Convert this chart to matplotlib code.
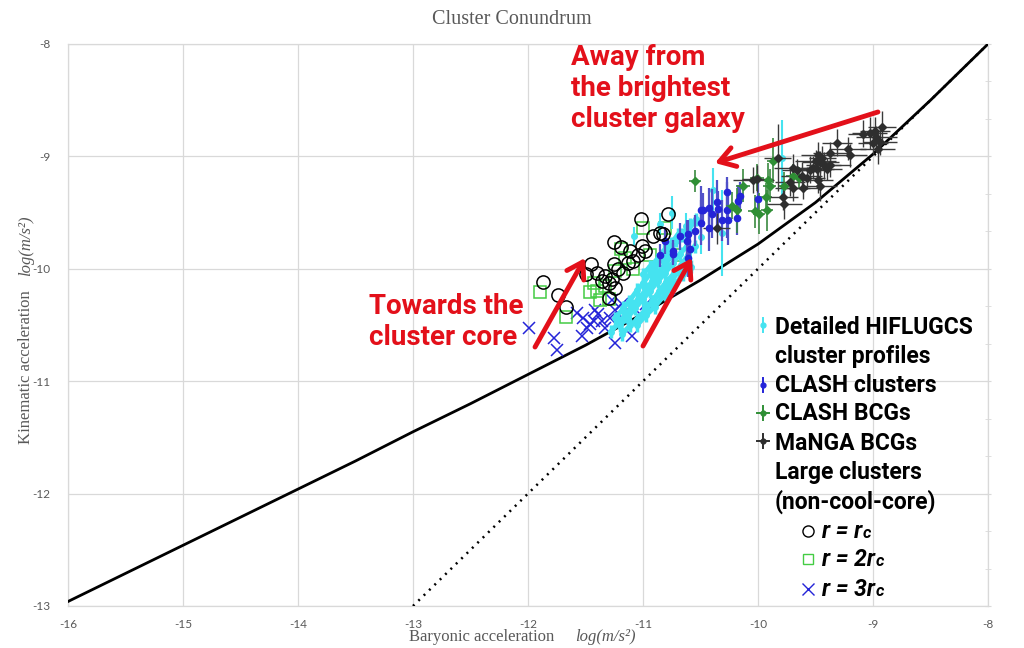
import matplotlib
matplotlib.use("Agg")
import matplotlib.pyplot as plt
from matplotlib.ticker import MultipleLocator

# ---------------- data ----------------
curve_x = [-16.0, -15.5, -15.0, -14.5, -14.0, -13.5, -13.0, -12.5, -12.0,
           -11.5, -11.0, -10.5, -10.0, -9.5, -9.0, -8.5, -8.0]
curve_y = [-12.96, -12.71, -12.46, -12.21, -11.96, -11.71, -11.45, -11.20, -10.94,
           -10.68, -10.40, -10.10, -9.78, -9.41, -8.98, -8.50, -8.00]
unity_x = [-13.0, -8.0]
unity_y = [-13.0, -8.0]

# HIFLUGCS detailed profiles (cyan)
hif_a_x = [-11.28, -11.21, -11.16, -11.09, -11.04, -10.97, -10.92, -10.85, -10.80, -10.74]
hif_a_y = [-10.56, -10.48, -10.42, -10.33, -10.27, -10.18, -10.11, -10.02, -9.95, -9.87]
hif_b_x = [-11.18, -11.11, -11.05, -10.97, -10.91, -10.83, -10.77, -10.69, -10.63]
hif_b_y = [-10.58, -10.50, -10.45, -10.35, -10.29, -10.19, -10.13, -10.02, -9.96]
hif_c_x = [-11.05, -10.97, -10.90, -10.81, -10.74, -10.65, -10.58]
hif_c_y = [-10.50, -10.41, -10.34, -10.23, -10.16, -10.05, -9.98]
hif_d_x = [-11.24, -11.17, -11.12, -11.05, -11.00, -10.93]
hif_d_y = [-10.44, -10.35, -10.29, -10.19, -10.13, -10.03]
hif_e_x = [-10.90, -10.83, -10.78, -10.71, -10.66, -10.59, -10.54]
hif_e_y = [-10.00, -9.91, -9.85, -9.75, -9.70, -9.61, -9.56]
hif_f_x = [-11.20, -11.13, -11.07, -11.00, -10.94, -10.87, -10.81, -10.74, -10.68, -10.62]
hif_f_y = [-10.50, -10.43, -10.35, -10.27, -10.20, -10.11, -10.04, -9.95, -9.87, -9.80]
hif_g_x = [-10.98, -10.92, -10.86, -10.80, -10.73, -10.67, -10.61, -10.55]
hif_g_y = [-10.35, -10.29, -10.20, -10.12, -10.04, -9.97, -9.88, -9.80]
hif_h_x = [-11.00, -10.94, -10.88, -10.82, -10.76, -10.70]
hif_h_y = [-10.05, -9.98, -9.92, -9.84, -9.78, -9.70]
hif_single_x = [-10.75, -10.39, -10.31, -9.79, -10.63, -10.85, -11.08, -10.50]
hif_single_y = [-9.50, -9.30, -9.68, -9.01, -9.62, -9.60, -9.71, -9.72]
hif_single_err = [0.15, 0.20, 0.38, 0.33, 0.12, 0.10, 0.08, 0.15]

# CLASH clusters (blue)
clash_x = [-10.61, -10.59, -10.62, -10.68, -10.74, -10.50, -10.48, -10.43, -10.40,
           -10.36, -10.35, -10.27, -10.27, -10.26, -10.31, -10.17, -10.16, -10.00,
           -10.55, -10.43, -10.61, -10.74, -10.61, -10.81, -10.85, -10.50, -10.18]
clash_y = [-9.90, -9.82, -9.75, -9.71, -9.84, -9.59, -9.48, -9.46, -9.51,
           -9.41, -9.47, -9.32, -9.48, -9.57, -9.57, -9.40, -9.35, -9.38,
           -9.66, -9.64, -9.69, -9.87, -9.97, -9.75, -9.88, -9.48, -9.55]
clash_err = [0.12, 0.15, 0.18, 0.12, 0.10, 0.20, 0.15, 0.18, 0.22,
             0.20, 0.16, 0.14, 0.25, 0.22, 0.18, 0.15, 0.12, 0.14,
             0.14, 0.20, 0.12, 0.10, 0.10, 0.12, 0.10, 0.22, 0.15]

# CLASH BCGs (green)
bcg_x = [-10.55, -10.13, -10.23, -10.18, -10.03, -9.92, -10.01, -9.91,
         -9.77, -9.70, -9.87, -9.90, -9.99, -9.64, -9.93]
bcg_y = [-9.22, -9.26, -9.44, -9.48, -9.49, -9.48, -9.19, -9.21,
         -9.26, -9.17, -9.04, -9.26, -9.51, -9.19, -9.36]
bcg_yerr = [0.10, 0.15, 0.12, 0.20, 0.15, 0.18, 0.12, 0.15,
            0.12, 0.10, 0.20, 0.15, 0.18, 0.10, 0.12]
bcg_xerr = [0.05, 0.06, 0.05, 0.04, 0.06, 0.05, 0.06, 0.05,
            0.05, 0.06, 0.05, 0.06, 0.05, 0.05, 0.05]

# MaNGA BCGs (dark grey)
manga_x = [-9.83, -9.70, -9.66, -9.62, -9.57, -9.55, -9.50, -9.48, -9.44, -9.46,
           -9.43, -9.40, -9.37, -9.49, -9.52, -9.46, -9.48, -9.37, -9.31, -9.22,
           -9.20, -9.09, -9.03, -8.98, -8.97, -8.94, -8.96, -9.00, -8.92, -9.72,
           -9.70, -9.61, -9.78, -9.77, -10.04, -10.36, -10.01]
manga_y = [-9.01, -9.10, -9.12, -9.17, -9.19, -9.12, -9.04, -8.99, -9.01, -9.05,
           -9.08, -9.11, -9.08, -9.11, -9.10, -9.26, -9.21, -8.97, -8.88, -8.93,
           -8.99, -8.80, -8.79, -8.77, -8.83, -8.87, -8.93, -8.88, -8.74, -9.23,
           -9.28, -9.28, -9.36, -9.42, -9.21, -9.64, -9.20]
manga_xerr = [0.12, 0.16, 0.13, 0.18, 0.15, 0.13, 0.18, 0.15, 0.12, 0.16,
              0.15, 0.13, 0.18, 0.15, 0.12, 0.15, 0.13, 0.15, 0.13, 0.16,
              0.15, 0.13, 0.15, 0.13, 0.18, 0.15, 0.15, 0.13, 0.12, 0.13,
              0.15, 0.15, 0.13, 0.15, 0.18, 0.12, 0.13]
manga_yerr = [0.30, 0.12, 0.10, 0.12, 0.10, 0.12, 0.10, 0.12, 0.10, 0.10,
              0.12, 0.10, 0.10, 0.12, 0.10, 0.14, 0.12, 0.10, 0.12, 0.10,
              0.10, 0.12, 0.14, 0.12, 0.10, 0.12, 0.14, 0.10, 0.14, 0.12,
              0.12, 0.10, 0.12, 0.14, 0.12, 0.14, 0.12]

# Large clusters (non-cool-core)
rc1_x = [-11.87, -11.74, -11.67, -11.45, -11.50, -11.25, -11.19, -11.25, -11.02,
         -10.91, -11.01, -11.09, -11.30, -11.36, -11.27, -11.33, -11.40, -11.17,
         -11.13, -11.24, -11.04, -10.98, -10.83, -10.78, -10.85, -11.22, -11.11, -11.30]
rc1_y = [-10.12, -10.23, -10.34, -9.96, -10.05, -9.76, -9.81, -9.96, -9.56,
         -9.71, -9.80, -9.93, -10.26, -10.11, -10.09, -10.06, -10.04, -10.04,
         -9.95, -10.17, -9.88, -9.84, -9.69, -9.51, -9.68, -10.00, -9.84, -10.13]
rc2_x = [-11.90, -11.67, -11.00, -11.19, -11.43, -11.37, -11.30, -11.40, -11.16,
         -11.24, -11.09, -10.94, -11.33, -11.46, -10.81, -10.66]
rc2_y = [-10.21, -10.43, -9.64, -9.82, -10.13, -10.28, -10.27, -10.20, -9.90,
         -10.02, -10.00, -9.88, -10.15, -10.21, -9.64, -9.88]
rc3_x = [-11.99, -11.77, -11.75, -11.52, -11.49, -11.53, -11.42, -11.36, -11.43,
         -11.39, -11.24, -11.10, -11.24, -11.27, -11.18, -10.97, -11.33, -11.46,
         -11.29, -11.16, -11.03, -10.77, -11.57]
rc3_y = [-10.53, -10.62, -10.72, -10.44, -10.53, -10.60, -10.37, -10.46, -10.46,
         -10.40, -10.66, -10.60, -10.37, -10.28, -10.31, -10.31, -10.53, -10.49,
         -10.44, -10.46, -10.40, -10.18, -10.39]

x_ticks = [-16, -15, -14, -13, -12, -11, -10, -9, -8]
y_ticks = [-13, -12, -11, -10, -9, -8]

# ---------------- styling ----------------
RED = "#e3101a"
CYAN = "#45e3f0"
BLUE = "#2424d8"
GREEN = "#2f8f35"
DARK = "#2e2e2e"
GREY = "#595959"
GRID = "#d9d9d9"
NARROW = ["Roboto", "DejaVu Sans"]
SERIF = ["Liberation Serif", "DejaVu Serif"]

fig = plt.figure(figsize=(10.24, 6.48), dpi=100)
ax = fig.add_axes([68 / 1024, 42 / 648, 920 / 1024, 562 / 648])

ax.set_xlim(-16, -8)
ax.set_ylim(-13, -8)
ax.set_xticks(x_ticks)
ax.set_yticks(y_ticks)
ax.set_xticklabels([str(v) for v in x_ticks])
ax.set_yticklabels([str(v) for v in y_ticks])
ax.yaxis.set_minor_locator(MultipleLocator(1 / 3))
ax.grid(True, which="major", color=GRID, lw=0.9)
ax.set_axisbelow(True)
for s in ax.spines.values():
    s.set_color(GRID)
    s.set_linewidth(0.9)
ax.tick_params(axis="x", length=0, pad=9, labelsize=8.5, labelcolor=GREY)
ax.tick_params(axis="y", which="both", left=False, right=True, direction="inout",
               length=5, color=GRID, pad=10, labelsize=8.5, labelcolor=GREY)
for lab in ax.get_xticklabels() + ax.get_yticklabels():
    lab.set_fontfamily(["Lato", "DejaVu Sans"])

# curves
ax.plot(curve_x, curve_y, color="black", lw=2.0, zorder=3)
ax.plot(unity_x, unity_y, color="black", lw=1.8, ls=(0, (0.8, 2.2)), zorder=3)

# r = 3rc crosses and r = 2rc squares (beneath)
ax.plot(rc3_x, rc3_y, ls="none", marker="x", ms=9, mew=1.1, color=BLUE, zorder=4)
ax.plot(rc2_x, rc2_y, ls="none", marker="s", ms=8, mfc="none", mew=1.1, color="#44cc44", zorder=4)

# HIFLUGCS profiles
for hx, hy in [(hif_a_x, hif_a_y), (hif_b_x, hif_b_y), (hif_c_x, hif_c_y),
               (hif_d_x, hif_d_y), (hif_e_x, hif_e_y), (hif_f_x, hif_f_y),
               (hif_g_x, hif_g_y), (hif_h_x, hif_h_y)]:
    ax.errorbar(hx, hy, yerr=[0.06] * len(hx), fmt="o", ms=4, color=CYAN,
                ecolor=CYAN, elinewidth=2.5, capsize=0, zorder=5)
    ax.plot(hx, hy, color=CYAN, lw=3.5, zorder=5)
ax.errorbar(hif_single_x, hif_single_y, yerr=hif_single_err, fmt="o", ms=4,
            color=CYAN, ecolor=CYAN, elinewidth=1.5, capsize=0, zorder=5)

# CLASH clusters
ax.errorbar(clash_x, clash_y, yerr=clash_err, fmt="o", ms=4.5, color=BLUE,
            ecolor="#5050c8", elinewidth=1.6, capsize=0, zorder=6)
# CLASH BCGs
ax.errorbar(bcg_x, bcg_y, xerr=bcg_xerr, yerr=bcg_yerr, fmt="D", ms=4, color=GREEN,
            ecolor="#3a8a40", elinewidth=1.2, capsize=0, zorder=6)
# MaNGA BCGs
ax.errorbar(manga_x, manga_y, xerr=manga_xerr, yerr=manga_yerr, fmt="D", ms=4, color=DARK,
            ecolor="#3a3a3a", elinewidth=1.0, capsize=0, zorder=6)

# r = rc circles (on top)
ax.plot(rc1_x, rc1_y, ls="none", marker="o", ms=9.5, mfc="none", mew=1.1, color="black", zorder=7)

# ---------------- annotations ----------------
arrow_kw = dict(arrowstyle="->,head_length=0.55,head_width=0.35", color=RED, lw=3.5,
                shrinkA=0, shrinkB=0, mutation_scale=20)
ax.annotate("", xy=(-10.374, -9.059), xytext=(-8.957, -8.605), arrowprops=arrow_kw, zorder=8)
ax.annotate("", xy=(-11.504, -9.904), xytext=(-11.939, -10.696), arrowprops=arrow_kw, zorder=8)
ax.annotate("", xy=(-10.574, -9.904), xytext=(-11.0, -10.687), arrowprops=arrow_kw, zorder=8)

fig.text(571 / 1024, 1 - 44 / 648, "Away from\nthe brightest\ncluster galaxy", color=RED,
         fontsize=20, fontweight="bold", family=NARROW, ha="left", va="top", linespacing=1.18)
fig.text(369 / 1024, 1 - 293 / 648, "Towards the\ncluster core", color=RED,
         fontsize=20, fontweight="bold", family=NARROW, ha="left", va="top", linespacing=1.18)

# ---------------- custom legend ----------------
def px2ax(px, py):
    return ((px - 68) / 920, (606 - py) / 562)

LEG_FS = 16.5
def legend_text(px, py, s, italic=False):
    return ax.text(*px2ax(px, py), s, transform=ax.transAxes, fontsize=LEG_FS,
                   fontweight="bold", family=NARROW, ha="left", va="center",
                   fontstyle="italic" if italic else "normal", color="black", zorder=9)

def bar_marker(px, py, color, horiz=False):
    mx, my = px2ax(px, py)
    dy = 7 / 562
    ax.plot([mx, mx], [my - dy, my + dy], color=color, lw=1.4, transform=ax.transAxes, zorder=9)
    if horiz:
        dx = 6 / 920
        ax.plot([mx - dx, mx + dx], [my, my], color=color, lw=1.4, transform=ax.transAxes, zorder=9)
    ax.plot([mx], [my], marker="o", ms=3.5, color=color, transform=ax.transAxes, zorder=9)

bar_marker(763, 325, CYAN)
legend_text(775, 328, "Detailed HIFLUGCS")
legend_text(775, 357, "cluster profiles")
bar_marker(763, 385, BLUE)
legend_text(775, 386, "CLASH clusters")
bar_marker(763, 413, GREEN, horiz=True)
legend_text(775, 414, "CLASH BCGs")
bar_marker(763, 441, DARK, horiz=True)
legend_text(775, 443, "MaNGA BCGs")
legend_text(775, 473, "Large clusters")
legend_text(775, 502, "(non-cool-core)")

ax.plot(*px2ax(808, 531), marker="o", ms=8, mfc="none", mew=1.0, color="black",
        transform=ax.transAxes, zorder=9)
ax.plot(*px2ax(808, 559), marker="s", ms=7, mfc="none", mew=1.0, color="#44cc44",
        transform=ax.transAxes, zorder=9)
ax.plot(*px2ax(808, 589), marker="x", ms=8, mew=1.0, color=BLUE,
        transform=ax.transAxes, zorder=9)
for py, s in [(531, "r = r"), (559, "r = 2r"), (589, "r = 3r")]:
    t = legend_text(822, py, s, italic=True)
    ax.annotate("c", xy=(1, 0), xycoords=t, xytext=(0.5, 1), textcoords="offset points",
                fontsize=12, fontweight="bold", fontstyle="italic", family=NARROW,
                ha="left", va="bottom", zorder=9)

# ---------------- titles and axis labels ----------------
fig.text(0.5, 1 - 20 / 648, "Cluster Conundrum", ha="center", va="center",
         fontsize=14.5, color=GREY, family=SERIF)

fig.text(409 / 1024, 1 - 641 / 648, "Baryonic acceleration", ha="left", va="baseline",
         fontsize=12, color=GREY, family=SERIF)
fig.text(575 / 1024, 1 - 641 / 648, "log(m/s²)", ha="left", va="baseline",
         fontsize=12, color=GREY, family=SERIF, fontstyle="italic")

fig.text(30 / 1024, 1 - 444 / 648, "Kinematic acceleration", ha="left", va="baseline",
         rotation=90, rotation_mode="anchor", fontsize=12, color=GREY, family=SERIF)
fig.text(30 / 1024, 1 - 276 / 648, "log(m/s²)", ha="left", va="baseline",
         rotation=90, rotation_mode="anchor", fontsize=12, color=GREY, family=SERIF,
         fontstyle="italic")

fig.savefig("out.png", dpi=100)
